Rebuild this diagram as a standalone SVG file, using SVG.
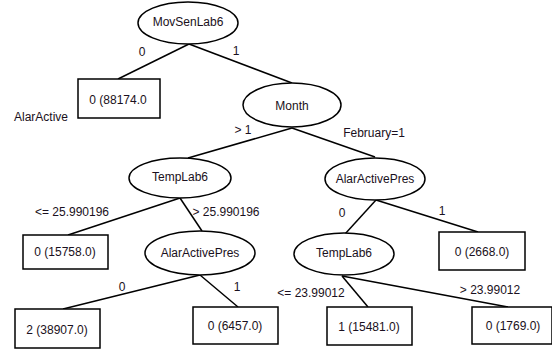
<svg xmlns="http://www.w3.org/2000/svg" width="552" height="349" viewBox="0 0 552 349">
<style>
text{font-family:"Liberation Sans","DejaVu Sans",sans-serif;font-size:12px;fill:#1a1020;text-anchor:middle;dominant-baseline:central}
.n{fill:#fff;stroke:#000;stroke-width:1.5}
.e line{stroke:#000;stroke-width:1.5}
</style>
<rect width="552" height="349" fill="#fff"/>
<g class="e" id="connectors">
<line x1="189" y1="44" x2="118" y2="79"/>
<line x1="189" y1="44" x2="292" y2="83"/>
<line x1="292" y1="128" x2="188" y2="158"/>
<line x1="292" y1="128" x2="375" y2="157"/>
<line x1="180" y1="198" x2="68" y2="235"/>
<line x1="180" y1="198" x2="202" y2="231"/>
<line x1="376" y1="200" x2="345" y2="234"/>
<line x1="376" y1="200" x2="478" y2="232"/>
<line x1="200" y1="275" x2="63" y2="309"/>
<line x1="200" y1="275" x2="238" y2="307"/>
<line x1="342" y1="276" x2="368" y2="307"/>
<line x1="342" y1="276" x2="508" y2="307"/>
<text x="142" y="52">0</text>
<text x="236" y="51">1</text>
<text x="243" y="130">&gt; 1</text>
<text x="374" y="133">February=1</text>
<text x="72" y="212">&lt;= 25.990196</text>
<text x="226" y="212">&gt; 25.990196</text>
<text x="342" y="213">0</text>
<text x="442" y="211">1</text>
<text x="122" y="287">0</text>
<text x="237" y="287">1</text>
<text x="311" y="293">&lt;= 23.99012</text>
<text x="490" y="290">&gt; 23.99012</text>
</g>
<g id="n1"><ellipse class="n" cx="188" cy="23" rx="50" ry="21"/><text x="188" y="22">MovSenLab6</text></g>
<g id="n2"><rect class="n" x="78" y="79" width="82" height="39"/><text x="118" y="100">0 (88174.0</text></g>
<g id="n2b"><text x="41" y="117">AlarActive</text></g>
<g id="n3"><ellipse class="n" cx="292" cy="105" rx="49" ry="22"/><text x="292" y="106">Month</text></g>
<g id="n4"><ellipse class="n" cx="180" cy="178" rx="51" ry="20"/><text x="180" y="177">TempLab6</text></g>
<g id="n5"><ellipse class="n" cx="375" cy="179" rx="50" ry="21"/><text x="375" y="179">AlarActivePres</text></g>
<g id="n6"><rect class="n" x="23" y="235" width="85" height="34"/><text x="65" y="252">0 (15758.0)</text></g>
<g id="n7"><ellipse class="n" cx="200" cy="253" rx="55" ry="22"/><text x="200" y="253">AlarActivePres</text></g>
<g id="n8"><ellipse class="n" cx="344" cy="254" rx="50" ry="21"/><text x="344" y="253">TempLab6</text></g>
<g id="n9"><rect class="n" x="439" y="232" width="86" height="38"/><text x="482" y="252">0 (2668.0)</text></g>
<g id="n10"><rect class="n" x="15" y="309" width="85" height="39"/><text x="57" y="330">2 (38907.0)</text></g>
<g id="n11"><rect class="n" x="193" y="307" width="85" height="37"/><text x="235" y="326">0 (6457.0)</text></g>
<g id="n12"><rect class="n" x="327" y="307" width="85" height="38"/><text x="369" y="327">1 (15481.0)</text></g>
<g id="n13"><rect class="n" x="472" y="307" width="80" height="37"/><text x="513" y="326">0 (1769.0)</text></g>
</svg>
